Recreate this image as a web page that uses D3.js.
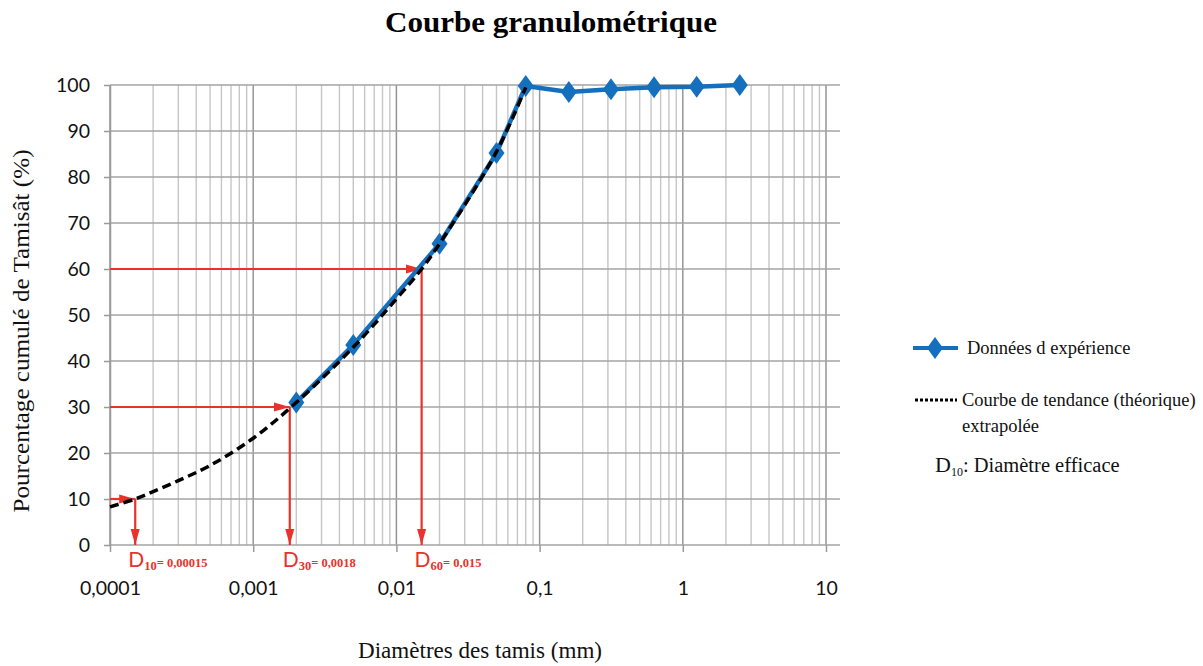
<!DOCTYPE html>
<html>
<head>
<meta charset="utf-8">
<script src="https://cdn.jsdelivr.net/npm/d3@7"></script>
<style>
  body { margin: 0; background: #ffffff; }
  svg { display: block; }
</style>
</head>
<body>
<svg id="chart" width="1203" height="666"></svg>
<script>
// ----------- DATA ------------
// sieve diameters (mm) and cumulative passing (%) - experimental points
const sieveSizes = [0.002, 0.005, 0.02, 0.05, 0.08, 0.16, 0.315, 0.63, 1.25, 2.5];
const passing = [31, 43.5, 65.5, 85.2, 99.8, 98.5, 99.1, 99.5, 99.6, 100];

// extrapolated trend curve
const trendSizes = [0.0001, 0.00015, 0.0002, 0.0003, 0.0005, 0.001, 0.002, 0.005, 0.01, 0.015, 0.02, 0.05, 0.08];
const trendValues = [8.3, 10, 11.6, 14, 17.3, 23.2, 31, 43, 53.5, 60, 65.5, 85.5, 99.5];

// characteristic diameters
const dNames = ["10", "30", "60"];
const dDiameters = [0.00015, 0.0018, 0.015];
const dPercents = [10, 30, 60];
const dLabels = ["0,00015", "0,0018", "0,015"];

// ticks
const xTicks = [0.0001, 0.001, 0.01, 0.1, 1, 10];
const xTickLabels = ["0,0001", "0,001", "0,01", "0,1", "1", "10"];
const yTicks = [0, 10, 20, 30, 40, 50, 60, 70, 80, 90, 100];

// ----------- SETUP ------------
const BLUE = "#1470bd";
const RED = "#e8322b";
const SERIF = "'Liberation Serif', 'Times New Roman', serif";
const SANS = "Lato, 'Open Sans', sans-serif";

const svg = d3.select("#chart");

const x = d3.scaleLog().domain([0.0001, 10]).range([110, 826]);
const y = d3.scaleLinear().domain([0, 100]).range([545, 85]);
const gridRight = 840;

// ----------- GRID ------------
const minorX = [];
for (let e = -4; e <= 0; e++) {
    for (let m = 2; m <= 9; m++) minorX.push(m * Math.pow(10, e));
}

svg.append("g")
    .selectAll("line")
    .data(minorX)
    .join("line")
    .attr("x1", d => x(d)).attr("x2", d => x(d))
    .attr("y1", y(100)).attr("y2", y(0))
    .attr("stroke", "#c6c6c6")
    .attr("stroke-width", 1.4);

svg.append("g")
    .selectAll("line")
    .data(xTicks)
    .join("line")
    .attr("x1", d => x(d)).attr("x2", d => x(d))
    .attr("y1", y(100)).attr("y2", y(0))
    .attr("stroke", "#959595")
    .attr("stroke-width", 1.5);

svg.append("g")
    .selectAll("line")
    .data(yTicks)
    .join("line")
    .attr("x1", x(0.0001)).attr("x2", gridRight)
    .attr("y1", d => y(d)).attr("y2", d => y(d))
    .attr("stroke", "#a3a3a3")
    .attr("stroke-width", 1.5);

// ----------- AXES ------------
const yAxis = svg.append("g")
    .attr("transform", `translate(${x(0.0001)},0)`)
    .call(d3.axisLeft(y).tickValues(yTicks).tickSize(6).tickPadding(14).tickSizeOuter(0));
yAxis.select(".domain").attr("stroke", "#9a9a9a").attr("stroke-width", 1.5);
yAxis.selectAll(".tick line").attr("stroke", "#9a9a9a").attr("stroke-width", 1.5);
yAxis.selectAll(".tick text")
    .attr("font-family", SANS).attr("font-size", 19.5).attr("fill", "#111");

const xAxis = svg.append("g")
    .attr("transform", `translate(0,${y(0)})`)
    .call(d3.axisBottom(x).tickValues(xTicks).tickSize(7).tickPadding(29).tickSizeOuter(0)
        .tickFormat((d, i) => xTickLabels[i]));
xAxis.select(".domain").remove();
xAxis.selectAll(".tick line").attr("stroke", "#9a9a9a").attr("stroke-width", 1.5);
xAxis.selectAll(".tick text")
    .attr("font-family", SANS).attr("font-size", 19.5).attr("fill", "#111");

// ----------- ANNOTATION ARROWS ------------
const defs = svg.append("defs");
defs.append("marker")
    .attr("id", "redArrow")
    .attr("viewBox", "0 0 16 10")
    .attr("refX", 16).attr("refY", 5)
    .attr("markerUnits", "userSpaceOnUse")
    .attr("markerWidth", 16).attr("markerHeight", 10)
    .attr("orient", "auto")
    .append("path")
    .attr("d", "M0,0.5 L16,5 L0,9.5 Z")
    .attr("fill", RED);

const ann = svg.append("g");
dDiameters.forEach((d, i) => {
    ann.append("line")
        .attr("x1", x(0.0001)).attr("x2", x(d))
        .attr("y1", y(dPercents[i])).attr("y2", y(dPercents[i]))
        .attr("stroke", RED).attr("stroke-width", 2.2)
        .attr("marker-end", "url(#redArrow)");
    ann.append("line")
        .attr("x1", x(d)).attr("x2", x(d))
        .attr("y1", y(dPercents[i])).attr("y2", y(0))
        .attr("stroke", RED).attr("stroke-width", 2.2)
        .attr("marker-end", "url(#redArrow)");

    const t = ann.append("text")
        .attr("x", x(d) - 7).attr("y", 567)
        .attr("fill", RED);
    t.append("tspan").attr("font-family", SANS).attr("font-size", 21).text("D");
    t.append("tspan").attr("font-family", SERIF).attr("font-weight", "bold")
        .attr("font-size", 12.5).attr("dy", 3).text(dNames[i]);
    t.append("tspan").attr("font-family", SERIF).attr("font-weight", "bold")
        .attr("font-size", 12.5).attr("dy", -3).text("= " + dLabels[i]);
});

// ----------- CURVES ------------
svg.append("path")
    .datum(sieveSizes.map((s, i) => [s, passing[i]]))
    .attr("d", d3.line().x(d => x(d[0])).y(d => y(d[1])))
    .attr("fill", "none")
    .attr("stroke", BLUE)
    .attr("stroke-width", 4.5)
    .attr("stroke-linejoin", "round");

const diamond = "M0,-11 L8,0 L0,11 L-8,0 Z";
svg.append("g")
    .selectAll("path")
    .data(sieveSizes)
    .join("path")
    .attr("transform", (d, i) => `translate(${x(d)},${y(passing[i])})`)
    .attr("d", diamond)
    .attr("fill", BLUE);

svg.append("path")
    .datum(trendSizes.map((s, i) => [s, trendValues[i]]))
    .attr("d", d3.line().x(d => x(d[0])).y(d => y(d[1])).curve(d3.curveCatmullRom))
    .attr("fill", "none")
    .attr("stroke", "#000")
    .attr("stroke-width", 3.5)
    .attr("stroke-dasharray", "9,5");

// ----------- TITLES ------------
svg.append("text")
    .attr("x", 551).attr("y", 32)
    .attr("text-anchor", "middle")
    .attr("font-family", SERIF).attr("font-weight", "bold").attr("font-size", 30)
    .attr("textLength", 332).attr("lengthAdjust", "spacingAndGlyphs")
    .text("Courbe granulométrique");

svg.append("text")
    .attr("transform", "translate(29,331) rotate(-90)")
    .attr("text-anchor", "middle")
    .attr("font-family", SERIF).attr("font-size", 23)
    .attr("textLength", 363).attr("lengthAdjust", "spacingAndGlyphs")
    .attr("fill", "#111")
    .text("Pourcentage cumulé de Tamisât  (%)");

svg.append("text")
    .attr("x", 480).attr("y", 658)
    .attr("text-anchor", "middle")
    .attr("font-family", SERIF).attr("font-size", 23)
    .attr("textLength", 244).attr("lengthAdjust", "spacingAndGlyphs")
    .attr("fill", "#111")
    .text("Diamètres des tamis (mm)");

// ----------- LEGEND ------------
const legend = svg.append("g").attr("font-family", SERIF).attr("fill", "#111");

legend.append("line")
    .attr("x1", 913).attr("x2", 958).attr("y1", 348).attr("y2", 348)
    .attr("stroke", BLUE).attr("stroke-width", 4);
legend.append("path")
    .attr("transform", "translate(935,348)")
    .attr("d", diamond).attr("fill", BLUE);
legend.append("text")
    .attr("x", 967).attr("y", 354)
    .attr("font-size", 18.5)
    .text("Données d expérience");

legend.append("line")
    .attr("x1", 915).attr("x2", 957).attr("y1", 400).attr("y2", 400)
    .attr("stroke", "#000").attr("stroke-width", 3)
    .attr("stroke-dasharray", "3,2");
legend.append("text")
    .attr("x", 962).attr("y", 406)
    .attr("font-size", 18.5)
    .text("Courbe de tendance (théorique)");
legend.append("text")
    .attr("x", 962).attr("y", 432)
    .attr("font-size", 18.5)
    .text("extrapolée");

const dLeg = legend.append("text")
    .attr("x", 935).attr("y", 472);
dLeg.append("tspan").attr("font-size", 22).text("D");
dLeg.append("tspan").attr("font-size", 12).attr("dy", 4).text("10");
dLeg.append("tspan").attr("font-size", 20.5).attr("dy", -4).text(": Diamètre efficace");
</script>
</body>
</html>
